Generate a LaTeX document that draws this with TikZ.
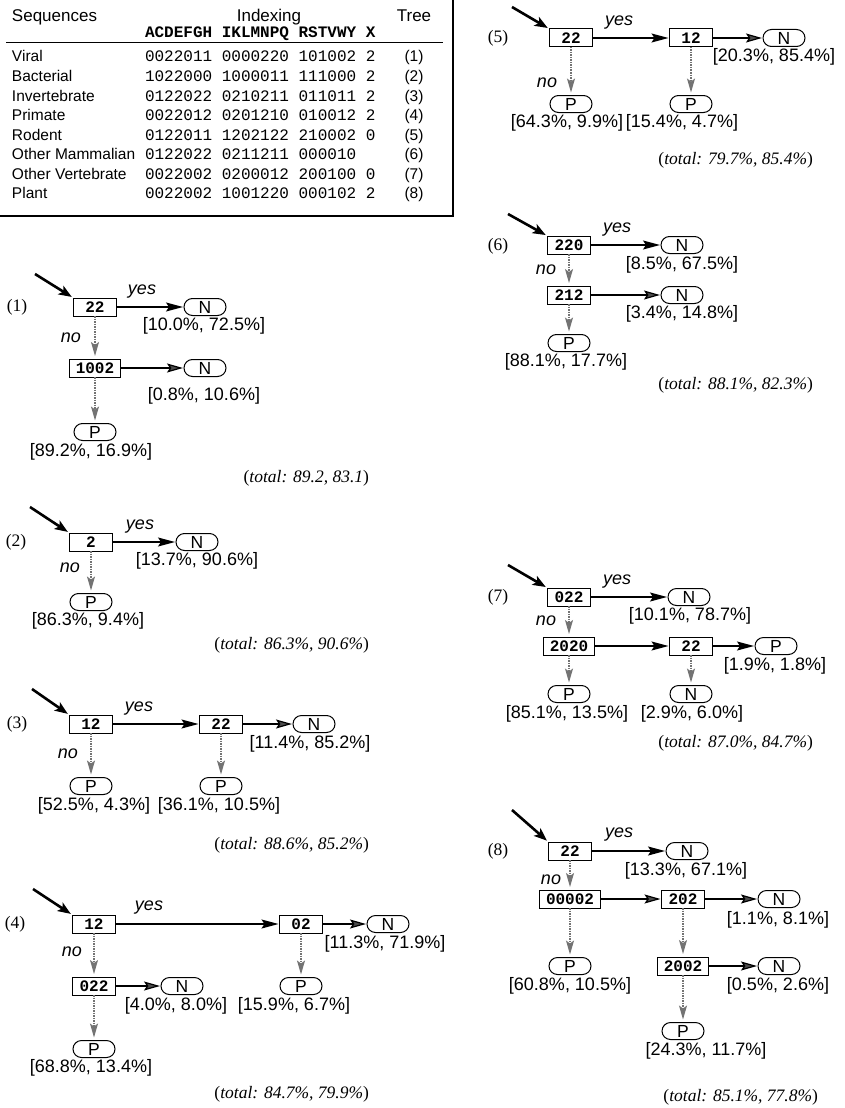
\documentclass[tikz,border=0pt]{standalone}
\usepackage{fontspec}
\setmainfont{Liberation Serif}
\setsansfont{Liberation Sans}
\setmonofont{Liberation Mono}
\usetikzlibrary{arrows.meta}
\tikzset{
  x=1pt, y=-1pt,
  every node/.style={inner sep=0pt, outer sep=0pt},
  hdr/.style={font=\fontsize{17}{20}\selectfont\sffamily},
  row/.style={font=\fontsize{15.5}{18}\selectfont\sffamily},
  mono/.style={font=\fontsize{16}{19}\selectfont\ttfamily},
  monob/.style={font=\fontsize{16}{19}\selectfont\ttfamily\bfseries},
  test/.style={draw, line width=1pt, minimum width=43pt, minimum height=18pt, inner xsep=6.5pt,
               font=\fontsize{16}{18}\selectfont\ttfamily\bfseries},
  leaf/.style={draw, line width=1pt, rounded corners=8.5pt, minimum width=42pt, minimum height=17pt,
               font=\fontsize{17.5}{19}\selectfont\sffamily},
  lbl/.style={font=\fontsize{18}{21}\selectfont\sffamily},
  yn/.style={font=\fontsize{18}{21}\selectfont\sffamily\itshape},
  tot/.style={font=\fontsize{17.5}{20}\selectfont\rmfamily},
  totL/.style={tot, anchor=east},
  yesarr/.style={line width=1.2pt, -{Stealth[length=17pt, width=9pt, inset=3pt]}, shorten >=1pt},
  sidearr/.style={line width=1.2pt, -{Stealth[length=16pt, width=9pt, inset=3pt, fill=black!70]}, shorten >=1pt},
  noarr/.style={line width=1.3pt, black!55, dash pattern=on 1.5pt off 1pt,
                -{Stealth[length=14pt, width=8pt, inset=3pt]}, shorten >=3pt},
  entry/.style={line width=2.6pt, -{Stealth[length=13pt, width=10pt, inset=3pt]}, shorten >=2pt},
}
\newcommand{\tottext}[1]{(\textit{total: #1})}
\begin{document}
\begin{tikzpicture}
\useasboundingbox (0,0) rectangle (844,1108);
% ---------------- table ----------------
\node[hdr, anchor=base west] (hs) at (12,22) {Sequences};
\node[hdr, anchor=base] (hi) at (269,22) {Indexing};
\node[hdr, anchor=base] (ht) at (414,22) {Tree};
\node[monob, anchor=base west] (hc) at (145,38) {ACDEFGH IKLMNPQ RSTVWY X};
\draw[line width=1pt] (6,43) -- (443,43);
\foreach \nm/\code/\tr [count=\i from 0] in {
  Viral/0022011 0000220 101002 2/(1),
  Bacterial/1022000 1000011 111000 2/(2),
  Invertebrate/0122022 0210211 011011 2/(3),
  Primate/0022012 0201210 010012 2/(4),
  Rodent/0122011 1202122 210002 0/(5),
  Other Mammalian/0122022 0211211 000010/(6),
  Other Vertebrate/0022002 0200012 200100 0/(7),
  Plant/0022002 1001220 000102 2/(8)}{
  \node[row, anchor=base west] (rn\i) at (12,62+19.5*\i) {\nm};
  \node[mono, anchor=base west] (rc\i) at (145,62+19.5*\i) {\code};
  \node[row, anchor=base] (rt\i) at (414,62+19.5*\i) {\tr};
}
\draw[line width=1.2pt] (0,216) -- (453,216) -- (453,0);

% ---------------- tree 1 ----------------
\node[tot] (l1) at (17,307) {(1)};
\node[test] (t1a) at (95,307) {22};
\node[leaf] (t1n1) at (205,307) {N};
\node[test] (t1b) at (95,368) {1002};
\node[leaf] (t1n2) at (205,368) {N};
\node[leaf] (t1p) at (95,432) {P};
\node[yn] (t1y) at (142,292) {yes};
\node[yn] (t1no) at (71,338) {no};
\node[lbl] (t1l1) at (204,326) {[10.0\%, 72.5\%]};
\node[lbl] (t1l2) at (204,396) {[0.8\%, 10.6\%]};
\node[lbl] (t1l3) at (91,452) {[89.2\%, 16.9\%]};
\node[totL] (t1t) at (369,478) {(\textit{total: 89.2, 83.1})};
\coordinate (t1e) at (35,274);
\draw[entry] (t1e) -- (t1a.north west);
\draw[yesarr] (t1a) -- (t1n1);
\draw[noarr] (t1a) -- (t1b);
\draw[sidearr] (t1b) -- (t1n2);
\draw[noarr] (t1b) -- (t1p);

% ---------------- tree 2 ----------------
\node[tot] (l2) at (16,542) {(2)};
\node[test] (t2a) at (91,542) {2};
\node[leaf] (t2n) at (197,542) {N};
\node[leaf] (t2p) at (91,602) {P};
\node[yn] (t2y) at (140,527) {yes};
\node[yn] (t2no) at (70,568) {no};
\node[lbl] (t2l1) at (197,561) {[13.7\%, 90.6\%]};
\node[lbl] (t2l2) at (88,621) {[86.3\%, 9.4\%]};
\node[totL] (t2t) at (369,645) {\tottext{86.3\%, 90.6\%}};
\coordinate (t2e) at (30,507);
\draw[entry] (t2e) -- (t2a.north west);
\draw[yesarr] (t2a) -- (t2n);
\draw[noarr] (t2a) -- (t2p);

% ---------------- tree 3 ----------------
\node[tot] (l3) at (17,724) {(3)};
\node[test] (t3a) at (91,724) {12};
\node[test] (t3b) at (221,724) {22};
\node[leaf] (t3n) at (314,724) {N};
\node[leaf] (t3p1) at (91,786) {P};
\node[leaf] (t3p2) at (221,786) {P};
\node[yn] (t3y) at (139,709) {yes};
\node[yn] (t3no) at (68,754) {no};
\node[lbl] (t3l1) at (310,744) {[11.4\%, 85.2\%]};
\node[lbl] (t3l2) at (94,806) {[52.5\%, 4.3\%]};
\node[lbl] (t3l3) at (219,806) {[36.1\%, 10.5\%]};
\node[totL] (t3t) at (369,845) {\tottext{88.6\%, 85.2\%}};
\coordinate (t3e) at (32,689);
\draw[entry] (t3e) -- (t3a.north west);
\draw[yesarr] (t3a) -- (t3b);
\draw[sidearr] (t3b) -- (t3n);
\draw[noarr] (t3a) -- (t3p1);
\draw[noarr] (t3b) -- (t3p2);

% ---------------- tree 4 ----------------
\node[tot] (l4) at (15,924) {(4)};
\node[test] (t4a) at (94,924) {12};
\node[test] (t4b) at (301,924) {02};
\node[leaf] (t4n1) at (388,924) {N};
\node[test] (t4c) at (94,986) {022};
\node[leaf] (t4n2) at (182,986) {N};
\node[leaf] (t4p1) at (301,986) {P};
\node[leaf] (t4p2) at (94,1049) {P};
\node[yn] (t4y) at (149,908) {yes};
\node[yn] (t4no) at (72,952) {no};
\node[lbl] (t4l1) at (385,944) {[11.3\%, 71.9\%]};
\node[lbl] (t4l2) at (176,1006) {[4.0\%, 8.0\%]};
\node[lbl] (t4l3) at (294,1006) {[15.9\%, 6.7\%]};
\node[lbl] (t4l4) at (91,1068) {[68.8\%, 13.4\%]};
\node[totL] (t4t) at (369,1094) {\tottext{84.7\%, 79.9\%}};
\coordinate (t4e) at (33,889);
\draw[entry] (t4e) -- (t4a.north west);
\draw[yesarr] (t4a) -- (t4b);
\draw[sidearr] (t4b) -- (t4n1);
\draw[noarr] (t4a) -- (t4c);
\draw[sidearr] (t4c) -- (t4n2);
\draw[noarr] (t4b) -- (t4p1);
\draw[noarr] (t4c) -- (t4p2);

% ---------------- tree 5 ----------------
\node[tot] (l5) at (498,38) {(5)};
\node[test] (t5a) at (571,38) {22};
\node[test] (t5b) at (691,38) {12};
\node[leaf] (t5n) at (784,38) {N};
\node[leaf] (t5p1) at (571,104) {P};
\node[leaf] (t5p2) at (691,104) {P};
\node[yn] (t5y) at (619,23) {yes};
\node[yn] (t5no) at (547,83) {no};
\node[lbl] (t5l1) at (774,57) {[20.3\%, 85.4\%]};
\node[lbl] (t5l2) at (567,123) {[64.3\%, 9.9\%]};
\node[lbl] (t5l3) at (682,123) {[15.4\%, 4.7\%]};
\node[totL] (t5t) at (813,160) {\tottext{79.7\%, 85.4\%}};
\coordinate (t5e) at (512,7);
\draw[entry] (t5e) -- (t5a.north west);
\draw[yesarr] (t5a) -- (t5b);
\draw[sidearr] (t5b) -- (t5n);
\draw[noarr] (t5a) -- (t5p1);
\draw[noarr] (t5b) -- (t5p2);

% ---------------- tree 6 ----------------
\node[tot] (l6) at (498,246) {(6)};
\node[test] (t6a) at (569,245) {220};
\node[leaf] (t6n1) at (682,245) {N};
\node[test] (t6b) at (569,295) {212};
\node[leaf] (t6n2) at (682,295) {N};
\node[leaf] (t6p) at (569,343) {P};
\node[yn] (t6y) at (617,230) {yes};
\node[yn] (t6no) at (546,270) {no};
\node[lbl] (t6l1) at (682,265) {[8.5\%, 67.5\%]};
\node[lbl] (t6l2) at (682,314) {[3.4\%, 14.8\%]};
\node[lbl] (t6l3) at (566,362) {[88.1\%, 17.7\%]};
\node[totL] (t6t) at (813,385) {\tottext{88.1\%, 82.3\%}};
\coordinate (t6e) at (508,214);
\draw[entry] (t6e) -- (t6a.north west);
\draw[yesarr] (t6a) -- (t6n1);
\draw[noarr] (t6a) -- (t6b);
\draw[sidearr] (t6b) -- (t6n2);
\draw[noarr] (t6b) -- (t6p);

% ---------------- tree 7 ----------------
\node[tot] (l7) at (498,597) {(7)};
\node[test] (t7a) at (569,597) {022};
\node[leaf] (t7n1) at (689,597) {N};
\node[test] (t7b) at (569,646) {2020};
\node[test] (t7c) at (691,646) {22};
\node[leaf] (t7p1) at (776,646) {P};
\node[leaf] (t7p2) at (569,694) {P};
\node[leaf] (t7n2) at (691,694) {N};
\node[yn] (t7y) at (617,582) {yes};
\node[yn] (t7no) at (546,621) {no};
\node[lbl] (t7l1) at (690,616) {[10.1\%, 78.7\%]};
\node[lbl] (t7l2) at (775,666) {[1.9\%, 1.8\%]};
\node[lbl] (t7l3) at (567,714) {[85.1\%, 13.5\%]};
\node[lbl] (t7l4) at (692,714) {[2.9\%, 6.0\%]};
\node[totL] (t7t) at (813,743) {\tottext{87.0\%, 84.7\%}};
\coordinate (t7e) at (508,565);
\draw[entry] (t7e) -- (t7a.north west);
\draw[yesarr] (t7a) -- (t7n1);
\draw[noarr] (t7a) -- (t7b);
\draw[yesarr] (t7b) -- (t7c);
\draw[yesarr] (t7c) -- (t7p1);
\draw[noarr] (t7b) -- (t7p2);
\draw[noarr] (t7c) -- (t7n2);

% ---------------- tree 8 ----------------
\node[tot] (l8) at (498,851) {(8)};
\node[test] (t8a) at (570,851) {22};
\node[leaf] (t8n1) at (687,851) {N};
\node[test] (t8b) at (570,899) {00002};
\node[test] (t8c) at (683,899) {202};
\node[leaf] (t8n2) at (779,899) {N};
\node[leaf] (t8p1) at (570,966) {P};
\node[test] (t8d) at (683,966) {2002};
\node[leaf] (t8n3) at (779,966) {N};
\node[leaf] (t8p2) at (683,1031) {P};
\node[yn] (t8y) at (619,835) {yes};
\node[yn] (t8no) at (551,880) {no};
\node[lbl] (t8l1) at (686,871) {[13.3\%, 67.1\%]};
\node[lbl] (t8l2) at (778,920) {[1.1\%, 8.1\%]};
\node[lbl] (t8l3) at (570,986) {[60.8\%, 10.5\%]};
\node[lbl] (t8l4) at (778,986) {[0.5\%, 2.6\%]};
\node[lbl] (t8l5) at (706,1051) {[24.3\%, 11.7\%]};
\node[totL] (t8t) at (818,1097) {\tottext{85.1\%, 77.8\%}};
\coordinate (t8e) at (512,810);
\draw[entry] (t8e) -- (t8a.north west);
\draw[yesarr] (t8a) -- (t8n1);
\draw[noarr] (t8a) -- (t8b);
\draw[sidearr] (t8b) -- (t8c);
\draw[sidearr] (t8c) -- (t8n2);
\draw[noarr] (t8b) -- (t8p1);
\draw[noarr] (t8c) -- (t8d);
\draw[sidearr] (t8d) -- (t8n3);
\draw[noarr] (t8d) -- (t8p2);
\end{tikzpicture}
\end{document}
